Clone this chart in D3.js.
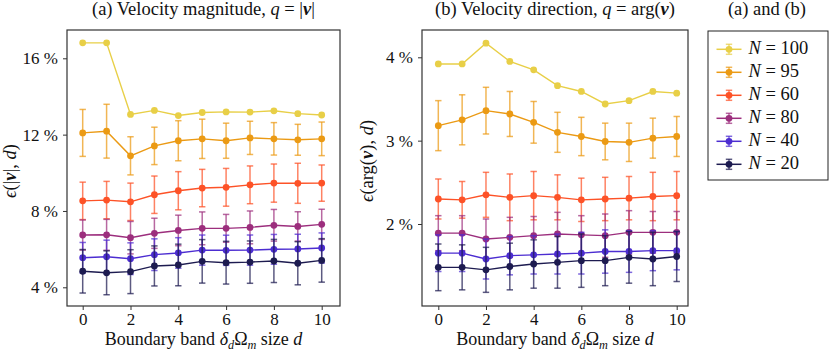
<!DOCTYPE html>
<html>
<head>
<meta charset="utf-8">
<script src="https://cdn.jsdelivr.net/npm/d3@7"></script>
<style>
  body { margin: 0; background: #fff; }
  .line { fill: none; stroke-width: 1.4; }
</style>
</head>
<body>
<svg width="830" height="352"></svg>
<script>
const dVals = [0, 1, 2, 3, 4, 5, 6, 7, 8, 9, 10];
const seriesN = ['100', '95', '60', '80', '40', '20'];
const colors = ['#e8cf47', '#eb9a14', '#fd5227', '#9c2e7d', '#4c2dd1', '#1d1b50'];

// (a) velocity magnitude, in %
const magMean100 = [16.81, 16.81, 13.06, 13.27, 13.00, 13.16, 13.19, 13.18, 13.25, 13.10, 13.03];
const magMean95 = [12.09, 12.18, 10.89, 11.41, 11.68, 11.78, 11.68, 11.83, 11.78, 11.73, 11.78];
const magErr95 = [1.23, 1.41, 1.00, 0.98, 1.05, 1.03, 0.92, 0.87, 0.85, 0.81, 0.88];
const magMean60 = [8.53, 8.57, 8.48, 8.85, 9.06, 9.20, 9.24, 9.37, 9.46, 9.45, 9.46];
const magErr60 = [0.98, 0.98, 0.98, 0.98, 1.00, 0.98, 0.99, 0.99, 1.00, 1.05, 0.95];
const magMean80 = [6.74, 6.75, 6.60, 6.83, 6.98, 7.09, 7.09, 7.14, 7.25, 7.19, 7.30];
const magErr80 = [0.79, 0.81, 0.85, 0.79, 0.80, 0.86, 0.73, 0.86, 0.83, 0.77, 0.79];
const magMean40 = [5.55, 5.60, 5.50, 5.71, 5.80, 5.95, 5.94, 5.95, 5.99, 6.01, 6.06];
const magErr40 = [0.80, 0.87, 0.83, 0.83, 0.80, 0.79, 0.79, 0.79, 0.78, 0.77, 0.79];
const magMean20 = [4.84, 4.76, 4.82, 5.12, 5.17, 5.36, 5.29, 5.32, 5.38, 5.26, 5.41];
const magErr20 = [1.14, 1.15, 1.15, 1.05, 1.09, 1.14, 1.12, 1.11, 1.13, 1.13, 1.14];

// (b) velocity direction, in %
const dirMean100 = [3.92, 3.92, 4.17, 3.95, 3.85, 3.66, 3.59, 3.44, 3.48, 3.59, 3.57];
const dirMean95 = [3.18, 3.25, 3.36, 3.32, 3.22, 3.10, 3.05, 2.99, 2.98, 3.03, 3.05];
const dirErr95 = [0.30, 0.30, 0.28, 0.27, 0.25, 0.24, 0.23, 0.22, 0.23, 0.24, 0.24];
const dirMean60 = [2.30, 2.29, 2.35, 2.32, 2.34, 2.32, 2.29, 2.30, 2.31, 2.33, 2.34];
const dirErr60 = [0.24, 0.22, 0.27, 0.28, 0.29, 0.27, 0.26, 0.26, 0.26, 0.29, 0.29];
const dirMean80 = [1.89, 1.89, 1.82, 1.84, 1.86, 1.88, 1.87, 1.86, 1.90, 1.90, 1.90];
const dirErr80 = [0.21, 0.21, 0.24, 0.24, 0.23, 0.26, 0.23, 0.26, 0.26, 0.25, 0.25];
const dirMean40 = [1.65, 1.65, 1.58, 1.62, 1.63, 1.64, 1.65, 1.67, 1.67, 1.68, 1.68];
const dirErr40 = [0.22, 0.22, 0.24, 0.23, 0.23, 0.24, 0.25, 0.26, 0.25, 0.24, 0.23];
const dirMean20 = [1.48, 1.48, 1.45, 1.49, 1.52, 1.54, 1.56, 1.56, 1.60, 1.58, 1.61];
const dirErr20 = [0.28, 0.27, 0.27, 0.28, 0.29, 0.31, 0.32, 0.30, 0.31, 0.32, 0.30];

const xTicks = [0, 2, 4, 6, 8, 10];
const magTicks = [4, 8, 12, 16];
const dirTicks = [2, 3, 4];

const magSeries = [
  [magMean100, null], [magMean95, magErr95], [magMean60, magErr60],
  [magMean80, magErr80], [magMean40, magErr40], [magMean20, magErr20]
];
const dirSeries = [
  [dirMean100, null], [dirMean95, dirErr95], [dirMean60, dirErr60],
  [dirMean80, dirErr80], [dirMean40, dirErr40], [dirMean20, dirErr20]
];

const svg = d3.select('svg');
const FONT = 'Liberation Serif';
const FS = 18.5;   // titles, labels, legend
const TS = 17;     // tick labels

// append text made of [string, style] pieces; style: i italic, b bold italic, s subscript
function mathText(sel, parts, size) {
  size = size || FS;
  sel.attr('font-family', FONT).attr('font-size', size).attr('fill', '#111');
  let sub = false;
  parts.forEach(([str, st]) => {
    const t = sel.append('tspan').text(str);
    if (st && st.includes('i')) t.attr('font-style', 'italic');
    if (st && st.includes('b')) t.attr('font-style', 'italic').attr('font-weight', 'bold');
    if (st && st.includes('s')) {
      t.attr('font-size', size * 0.68).attr('dy', sub ? 0 : 3.5);
      sub = true;
    } else if (sub) {
      t.attr('dy', -3.5);
      sub = false;
    }
  });
  return sel;
}

function drawPanel(p) {
  const x = d3.scaleLinear().domain([0, 10]).range([p.x0, p.x10]);
  const y = d3.scaleLinear().domain(p.yDomain).range(p.yRange);
  const g = svg.append('g');

  // series: error bars, line, markers
  p.series.forEach(([mean, err], si) => {
    const c = colors[si];
    if (err) {
      const eb = g.append('g').attr('stroke', c).attr('stroke-opacity', 0.72).attr('stroke-width', 1.5);
      dVals.forEach((d, i) => {
        const lo = y(mean[i] - err[i]), hi = y(mean[i] + err[i]), xx = x(d);
        eb.append('line').attr('x1', xx).attr('x2', xx).attr('y1', lo).attr('y2', hi);
        eb.append('line').attr('x1', xx - 3.2).attr('x2', xx + 3.2).attr('y1', lo).attr('y2', lo);
        eb.append('line').attr('x1', xx - 3.2).attr('x2', xx + 3.2).attr('y1', hi).attr('y2', hi);
      });
    }
    const line = d3.line().x((d, i) => x(dVals[i])).y(d => y(d));
    g.append('path').datum(mean).attr('class', 'line').attr('d', line).attr('stroke', c);
    g.selectAll(null).data(mean).enter().append('circle')
      .attr('cx', (d, i) => x(dVals[i])).attr('cy', d => y(d))
      .attr('r', 3.4).attr('fill', c);
  });

  // frame
  g.append('rect').attr('x', p.bx0).attr('y', 30).attr('width', p.bx1 - p.bx0).attr('height', 276)
    .attr('fill', 'none').attr('stroke', '#333').attr('stroke-width', 1.2);

  // axes
  const xAxis = g.append('g').attr('transform', 'translate(0,306)')
    .call(d3.axisBottom(x).tickValues(xTicks).tickSize(4).tickPadding(3));
  const yAxis = g.append('g').attr('transform', `translate(${p.bx0},0)`)
    .call(d3.axisLeft(y).tickValues(p.yTicks).tickSize(4).tickPadding(5).tickFormat(d => d + ' %'));
  [xAxis, yAxis].forEach(a => {
    a.attr('font-family', FONT).attr('font-size', TS);
    a.select('.domain').remove();
    a.selectAll('line').attr('stroke', '#333');
    a.selectAll('text').attr('fill', '#111');
  });

  const cx = (p.bx0 + p.bx1) / 2;
  mathText(svg.append('text').attr('x', cx).attr('y', 15).attr('text-anchor', 'middle'), p.title);
  mathText(svg.append('text').attr('x', cx).attr('y', 345).attr('text-anchor', 'middle'),
    [['Boundary band '], ['δ', 'i'], ['d', 'is'], ['Ω'], ['m', 'is'], [' size '], ['d', 'i']], 18);
  mathText(svg.append('text').attr('transform', `translate(${p.ylx},${p.yly}) rotate(-90)`)
    .attr('text-anchor', 'middle'), p.ylabel);
}

drawPanel({
  series: magSeries, yDomain: [4, 16], yRange: [287.3, 58.3], yTicks: magTicks,
  x0: 82.7, x10: 321.7, bx0: 67, bx1: 340, ylx: 16, yly: 171,
  title: [['(a) Velocity magnitude, '], ['q', 'i'], [' = |'], ['v', 'b'], ['|']],
  ylabel: [['ϵ', 'i'], ['(|'], ['v', 'b'], ['|, '], ['d', 'i'], [')']]
});
drawPanel({
  series: dirSeries, yDomain: [2, 4], yRange: [224, 57.3], yTicks: dirTicks,
  x0: 438.3, x10: 676.7, bx0: 422, bx1: 688, ylx: 373, yly: 161,
  title: [['(b) Velocity direction, '], ['q', 'i'], [' = arg('], ['v', 'b'], [')']],
  ylabel: [['ϵ', 'i'], ['(arg('], ['v', 'b'], ['), '], ['d', 'i'], [')']]
});

// legend
mathText(svg.append('text').attr('x', 767).attr('y', 15).attr('text-anchor', 'middle'), [['(a) and (b)']]);
svg.append('rect').attr('x', 708).attr('y', 31).attr('width', 120).attr('height', 149)
  .attr('fill', '#fff').attr('stroke', '#222').attr('stroke-width', 1);
const leg = svg.append('g').selectAll('g').data(seriesN).enter().append('g')
  .attr('transform', (d, i) => `translate(729,${49.3 + i * 23})`);
leg.append('line').attr('x1', -12.5).attr('x2', 12.5).attr('stroke', (d, i) => colors[i]).attr('stroke-width', 1.5);
leg.append('line').attr('y1', -5).attr('y2', 5).attr('stroke', (d, i) => colors[i]).attr('stroke-opacity', 0.72).attr('stroke-width', 1.5);
leg.append('line').attr('x1', -3.2).attr('x2', 3.2).attr('y1', -5).attr('y2', -5).attr('stroke', (d, i) => colors[i]).attr('stroke-opacity', 0.72).attr('stroke-width', 1.5);
leg.append('line').attr('x1', -3.2).attr('x2', 3.2).attr('y1', 5).attr('y2', 5).attr('stroke', (d, i) => colors[i]).attr('stroke-opacity', 0.72).attr('stroke-width', 1.5);
leg.append('circle').attr('r', 3.4).attr('fill', (d, i) => colors[i]);
leg.each(function (d) {
  mathText(d3.select(this).append('text').attr('x', 19.5).attr('y', 5), [['N', 'i'], [' = ' + d]]);
});
</script>
</body>
</html>
